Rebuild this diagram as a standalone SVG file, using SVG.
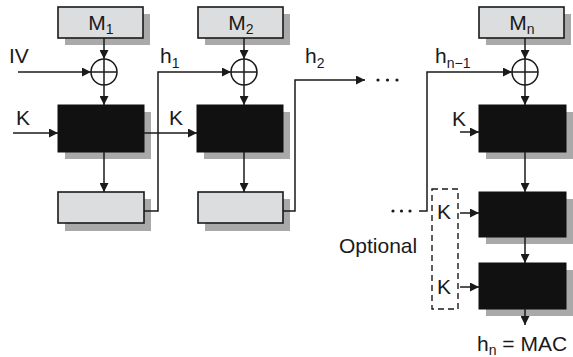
<svg xmlns="http://www.w3.org/2000/svg" width="573" height="357" viewBox="0 0 573 357">
<defs>
<marker id="ah" viewBox="0 0 10 10" refX="10" refY="5" markerWidth="10" markerHeight="9" orient="auto" markerUnits="userSpaceOnUse"><path d="M0,0 L10,5 L0,10 z" fill="#1a1a1a"/></marker>
</defs>
<style>
.shadow{fill:#a9a9a9;stroke:none}
.gbox{fill:#dcdddf;stroke:#1a1a1a;stroke-width:1.6}
.bbox{fill:#111;stroke:#111;stroke-width:1}
.ln{fill:none;stroke:#1a1a1a;stroke-width:1.5}
.arr{fill:none;stroke:#1a1a1a;stroke-width:1.5;marker-end:url(#ah)}
.xor{fill:#fff;stroke:#1a1a1a;stroke-width:1.5}
.t{font-family:"Liberation Sans",Arial,sans-serif;font-size:21px;fill:#1a1a1a}
.s{font-size:14px}
.dash{fill:none;stroke:#1a1a1a;stroke-width:1.4;stroke-dasharray:6,4}
.dot{fill:#1a1a1a}
</style>
<rect width="573" height="357" fill="#fff"/>

<g id="M1"><rect class="shadow" x="65" y="14" width="85" height="31"/><rect class="gbox" x="58" y="7" width="85" height="31"/><text class="t" x="101" y="30" text-anchor="middle">M<tspan class="s" dy="4">1</tspan></text></g>
<g id="M2"><rect class="shadow" x="205" y="14" width="85" height="31"/><rect class="gbox" x="198" y="7" width="85" height="31"/><text class="t" x="241" y="30" text-anchor="middle">M<tspan class="s" dy="4">2</tspan></text></g>
<g id="Mn"><rect class="shadow" x="486" y="14" width="85" height="31"/><rect class="gbox" x="479" y="7" width="85" height="31"/><text class="t" x="522" y="30" text-anchor="middle">M<tspan class="s" dy="4">n</tspan></text></g>

<g id="xor1"><circle class="xor" cx="104" cy="72" r="13"/><path class="ln" d="M91,72 H117 M104,59 V85"/></g>
<g id="xor2"><circle class="xor" cx="244" cy="72" r="13"/><path class="ln" d="M231,72 H257 M244,59 V85"/></g>
<g id="xorn"><circle class="xor" cx="525" cy="72" r="13"/><path class="ln" d="M512,72 H538 M525,59 V85"/></g>

<g id="E1"><rect class="shadow" x="65" y="112" width="86" height="47"/><rect class="bbox" x="58" y="105" width="86" height="47"/></g>
<g id="E2"><rect class="shadow" x="204" y="112" width="86" height="47"/><rect class="bbox" x="197" y="105" width="86" height="47"/></g>
<g id="En1"><rect class="shadow" x="486" y="112" width="87" height="47"/><rect class="bbox" x="479" y="105" width="87" height="47"/></g>
<g id="En2"><rect class="shadow" x="486" y="199" width="87" height="45"/><rect class="bbox" x="479" y="192" width="87" height="45"/></g>
<g id="En3"><rect class="shadow" x="486" y="270" width="87" height="46"/><rect class="bbox" x="479" y="263" width="87" height="46"/></g>

<g id="R1"><rect class="shadow" x="65" y="199" width="86" height="32"/><rect class="gbox" x="58" y="192" width="86" height="31"/></g>
<g id="R2"><rect class="shadow" x="205" y="199" width="85" height="32"/><rect class="gbox" x="198" y="192" width="85" height="31"/></g>

<g id="optional"><rect class="dash" x="432" y="189" width="26" height="120"/><text class="t" x="437" y="219">K</text><text class="t" x="437" y="294">K</text><text class="t" x="339" y="253">Optional</text></g>

<g id="connectors">
<path class="arr" d="M104,38 V59"/>
<path class="arr" d="M104,85 V105"/>
<path class="arr" d="M104,152 V192"/>
<path class="arr" d="M244,38 V59"/>
<path class="arr" d="M244,85 V105"/>
<path class="arr" d="M244,152 V192"/>
<path class="arr" d="M525,38 V59"/>
<path class="arr" d="M525,85 V105"/>
<path class="arr" d="M525,152 V192"/>
<path class="arr" d="M525,237 V263"/>
<path class="arr" d="M525,309 V325"/>
<path class="arr" d="M18,72 H91"/>
<path class="arr" d="M13,133 H58"/>
<path class="arr" d="M144,133 H197"/>
<path class="arr" d="M460,132 H479"/>
<path class="arr" d="M460,213 H479"/>
<path class="arr" d="M460,287 H479"/>
<path class="arr" d="M144,211 H158 V72 H231"/>
<path class="arr" d="M283,211 H295 V80 H365"/>
<path class="arr" d="M419,211 H427 V72 H512"/>
<circle class="dot" cx="378" cy="80" r="1.6"/><circle class="dot" cx="387.5" cy="80" r="1.6"/><circle class="dot" cx="397" cy="80" r="1.6"/>
<circle class="dot" cx="393" cy="211" r="1.6"/><circle class="dot" cx="401.5" cy="211" r="1.6"/><circle class="dot" cx="410" cy="211" r="1.6"/>
</g>

<g id="labels">
<text class="t" x="9" y="63">IV</text>
<text class="t" x="16" y="125">K</text>
<text class="t" x="169" y="125">K</text>
<text class="t" x="452" y="126">K</text>
<text class="t" x="160" y="63">h<tspan class="s" dy="5">1</tspan></text>
<text class="t" x="305" y="63">h<tspan class="s" dy="5">2</tspan></text>
<text class="t" x="435" y="63">h<tspan class="s" dy="5">n−1</tspan></text>
<text class="t" x="477" y="351">h<tspan class="s" dy="4">n</tspan><tspan dy="-4"> = MAC</tspan></text>
</g>
</svg>
